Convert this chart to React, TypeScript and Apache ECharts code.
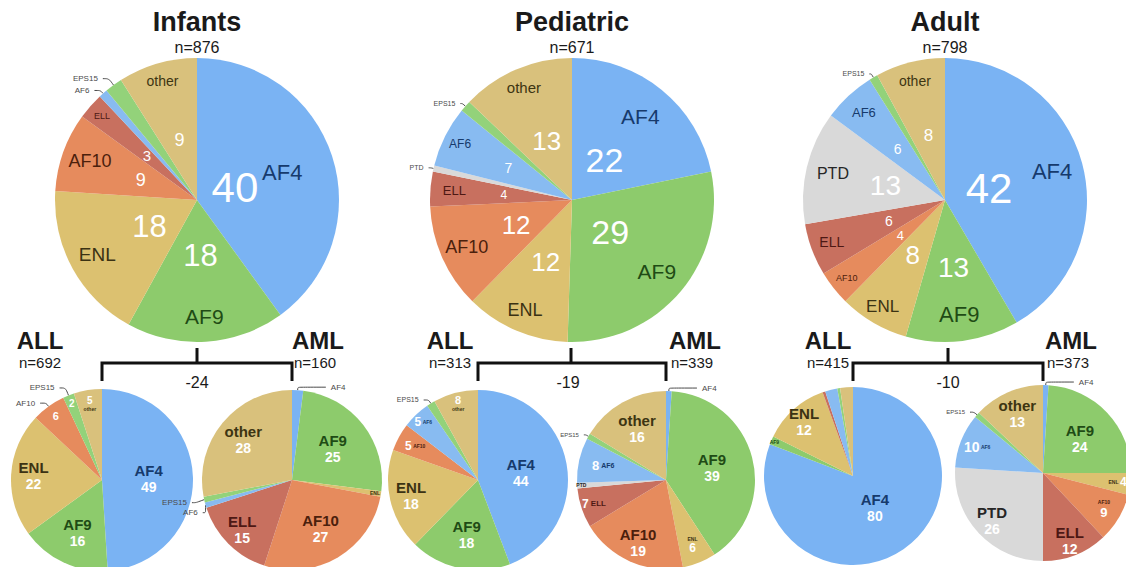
import React, { useEffect, useRef } from "react";
import * as echarts from "echarts";

const FONT = "'Liberation Sans', Arial, Helvetica, sans-serif";

// ---------- data ----------
const groupTitles = ["Infants", "Pediatric", "Adult"];
const groupN = [876, 671, 798];
const allN = [692, 313, 415];
const amlN = [160, 339, 373];
const diffs = [-24, -19, -10];

const infantsNames = ["AF4", "AF9", "ENL", "AF10", "ELL", "AF6", "EPS15", "other"];
const infantsValues = [40, 18, 18, 9, 3, 1, 2, 9];
const pediatricNames = ["AF4", "AF9", "ENL", "AF10", "ELL", "PTD", "AF6", "EPS15", "other"];
const pediatricValues = [22, 29, 12, 12, 4, 0.7, 7, 1.3, 13];
const adultNames = ["AF4", "AF9", "ENL", "AF10", "ELL", "PTD", "AF6", "EPS15", "other"];
const adultValues = [42, 13, 8, 4, 6, 13, 6, 1, 8];

const infantsAllNames = ["AF4", "AF9", "ENL", "AF10", "EPS15", "other"];
const infantsAllValues = [49, 16, 22, 6, 2, 5];
const infantsAmlNames = ["AF4", "AF9", "ENL", "AF10", "ELL", "AF6", "EPS15", "other"];
const infantsAmlValues = [2, 25, 1, 27, 15, 1, 1, 28];
const pediatricAllNames = ["AF4", "AF9", "ENL", "AF10", "AF6", "EPS15", "other"];
const pediatricAllValues = [44, 18, 18, 5, 5, 1.5, 8];
const pediatricAmlNames = ["AF4", "AF9", "ENL", "AF10", "ELL", "PTD", "AF6", "EPS15", "other"];
const pediatricAmlValues = [1, 39, 6, 19, 7, 1, 8, 1, 16];
const adultAllNames = ["AF4", "AF9", "ENL", "ELL", "AF6", "EPS15", "other"];
const adultAllValues = [80, 1.5, 12, 0.5, 2.2, 0.5, 2.3];
const adultAmlNames = ["AF4", "AF9", "ENL", "AF10", "ELL", "PTD", "AF6", "EPS15", "other"];
const adultAmlValues = [1, 24, 4, 9, 12, 26, 10, 1, 13];

// ---------- styles ----------
const COLORS: Record<string, string> = {
  AF4: "#7ab3f3",
  AF9: "#8dcb6c",
  ENL: "#dcc170",
  AF10: "#e68b5d",
  ELL: "#c8705f",
  AF6: "#88bbf1",
  EPS15: "#93d27a",
  PTD: "#d9d9d9",
  other: "#d9c17c",
};
const NAME_COLORS: Record<string, string> = {
  AF4: "#163a6c",
  AF9: "#1f4b15",
  ENL: "#3b3213",
  AF10: "#4b200c",
  ELL: "#4d1814",
  AF6: "#163a6c",
  EPS15: "#333333",
  PTD: "#262626",
  other: "#3d3512",
};

type Kind = "name" | "num" | "stack" | "stackR" | "inl" | "inlR" | "out";
type Spec = { i: number; k: Kind; f?: number; ns?: number; vs?: number; len?: number; len2?: number };

const infantsSpecs: Spec[] = [
  { i: 0, k: "name", f: 0.61, ns: 22 }, { i: 0, k: "num", f: 0.26, vs: 42 },
  { i: 1, k: "name", f: 0.8, ns: 21 }, { i: 1, k: "num", f: 0.37, vs: 31 },
  { i: 2, k: "name", f: 0.78, ns: 19 }, { i: 2, k: "num", f: 0.36, vs: 31 },
  { i: 3, k: "name", f: 0.78, ns: 18 }, { i: 3, k: "num", f: 0.4, vs: 18 },
  { i: 4, k: "name", f: 0.87, ns: 9 }, { i: 4, k: "num", f: 0.45, vs: 15 },
  { i: 5, k: "out", ns: 8, len: 4, len2: 6 }, { i: 6, k: "out", ns: 8, len: 8, len2: 6 },
  { i: 7, k: "name", f: 0.85, ns: 14 }, { i: 7, k: "num", f: 0.42, vs: 18 },
];
const pediatricSpecs: Spec[] = [
  { i: 0, k: "name", f: 0.74, ns: 21 }, { i: 0, k: "num", f: 0.34, vs: 34 },
  { i: 1, k: "name", f: 0.76, ns: 21 }, { i: 1, k: "num", f: 0.33, vs: 34 },
  { i: 2, k: "name", f: 0.82, ns: 18 }, { i: 2, k: "num", f: 0.45, vs: 26 },
  { i: 3, k: "name", f: 0.79, ns: 18 }, { i: 3, k: "num", f: 0.41, vs: 26 },
  { i: 4, k: "name", f: 0.81, ns: 13 }, { i: 4, k: "num", f: 0.46, vs: 12 },
  { i: 5, k: "out", ns: 7, len: 3, len2: 2 },
  { i: 6, k: "name", f: 0.86, ns: 12 }, { i: 6, k: "num", f: 0.48, vs: 14 },
  { i: 7, k: "out", ns: 7, len: 4, len2: 2 },
  { i: 8, k: "name", f: 0.84, ns: 15 }, { i: 8, k: "num", f: 0.43, vs: 26 },
];
const adultSpecs: Spec[] = [
  { i: 0, k: "name", f: 0.76, ns: 22 }, { i: 0, k: "num", f: 0.3, vs: 42 },
  { i: 1, k: "name", f: 0.79, ns: 22 }, { i: 1, k: "num", f: 0.46, vs: 28 },
  { i: 2, k: "name", f: 0.85, ns: 17 }, { i: 2, k: "num", f: 0.43, vs: 26 },
  { i: 3, k: "name", f: 0.86, ns: 9 }, { i: 3, k: "num", f: 0.38, vs: 13 },
  { i: 4, k: "name", f: 0.83, ns: 14 }, { i: 4, k: "num", f: 0.4, vs: 14 },
  { i: 5, k: "name", f: 0.79, ns: 16 }, { i: 5, k: "num", f: 0.41, vs: 28 },
  { i: 6, k: "name", f: 0.82, ns: 13 }, { i: 6, k: "num", f: 0.47, vs: 14 },
  { i: 7, k: "out", ns: 7, len: 4, len2: 2 },
  { i: 8, k: "name", f: 0.84, ns: 14 }, { i: 8, k: "num", f: 0.45, vs: 17 },
];
const infantsAllSpecs: Spec[] = [
  { i: 0, k: "stack", f: 0.48, ns: 15, vs: 14 },
  { i: 1, k: "stack", f: 0.6, ns: 15, vs: 14 },
  { i: 2, k: "stack", f: 0.72, ns: 15, vs: 14 },
  { i: 3, k: "num", f: 0.83, vs: 11 }, { i: 3, k: "out", ns: 8, len: 4, len2: 6 },
  { i: 4, k: "num", f: 0.87, vs: 10 }, { i: 4, k: "out", ns: 8, len: 8, len2: 6 },
  { i: 5, k: "stackR", f: 0.82, ns: 5, vs: 10 },
];
const infantsAmlSpecs: Spec[] = [
  { i: 0, k: "out", ns: 8, len: 3, len2: 28 },
  { i: 1, k: "stack", f: 0.54, ns: 15, vs: 14 },
  { i: 2, k: "name", f: 0.9, ns: 5 },
  { i: 3, k: "stack", f: 0.59, ns: 15, vs: 14 },
  { i: 4, k: "stack", f: 0.75, ns: 15, vs: 14 },
  { i: 5, k: "out", ns: 8, len: 6, len2: 4 }, { i: 6, k: "out", ns: 8, len: 14, len2: 4 },
  { i: 7, k: "stack", f: 0.67, ns: 15, vs: 14 },
];
const pediatricAllSpecs: Spec[] = [
  { i: 0, k: "stack", f: 0.45, ns: 15, vs: 14 },
  { i: 1, k: "stack", f: 0.59, ns: 15, vs: 14 },
  { i: 2, k: "stack", f: 0.73, ns: 15, vs: 14 },
  { i: 3, k: "inl", f: 0.76, ns: 5, vs: 12 },
  { i: 4, k: "inl", f: 0.85, ns: 5, vs: 12 },
  { i: 5, k: "out", ns: 7, len: 4, len2: 5 },
  { i: 6, k: "stackR", f: 0.85, ns: 5, vs: 11 },
];
const pediatricAmlSpecs: Spec[] = [
  { i: 0, k: "out", ns: 8, len: 3, len2: 28 },
  { i: 1, k: "stack", f: 0.5, ns: 15, vs: 14 },
  { i: 2, k: "stack", f: 0.76, ns: 5, vs: 12 },
  { i: 3, k: "stack", f: 0.74, ns: 15, vs: 14 },
  { i: 4, k: "inl", f: 0.82, ns: 8, vs: 12 },
  { i: 5, k: "name", f: 0.92, ns: 5 },
  { i: 6, k: "inl", f: 0.69, ns: 7, vs: 13 },
  { i: 7, k: "out", ns: 6, len: 3, len2: 2 },
  { i: 8, k: "stack", f: 0.63, ns: 15, vs: 14 },
];
const adultAllSpecs: Spec[] = [
  { i: 0, k: "stack", f: 0.4, ns: 15, vs: 14 },
  { i: 1, k: "name", f: 0.93, ns: 5 },
  { i: 2, k: "stack", f: 0.79, ns: 15, vs: 14 },
];
const adultAmlSpecs: Spec[] = [
  { i: 0, k: "out", ns: 8, len: 3, len2: 28 },
  { i: 1, k: "stack", f: 0.54, ns: 15, vs: 14 },
  { i: 2, k: "inlR", f: 0.82, ns: 5, vs: 12 },
  { i: 3, k: "stack", f: 0.77, ns: 5, vs: 13 },
  { i: 4, k: "stack", f: 0.79, ns: 15, vs: 14 },
  { i: 5, k: "stack", f: 0.76, ns: 15, vs: 14 },
  { i: 6, k: "inl", f: 0.77, ns: 5, vs: 14 },
  { i: 7, k: "out", ns: 6, len: 4, len2: 4 },
  { i: 8, k: "stack", f: 0.7, ns: 15, vs: 14 },
];

function labelText(k: Kind, name: string, v: number): string {
  const val = String(Math.round(v));
  switch (k) {
    case "name": return `{n|${name}}`;
    case "num": return `{v|${val}}`;
    case "stack": return `{n|${name}}\n{v|${val}}`;
    case "stackR": return `{v|${val}}\n{n|${name}}`;
    case "inl": return `{v|${val}} {n|${name}}`;
    case "inlR": return `{n|${name}} {v|${val}}`;
    default: return name;
  }
}

function makePie(
  names: string[], values: number[], cx: number, cy: number, r: number,
  specs: Spec[], bold: boolean
): any[] {
  const fw = bold ? "bold" : "normal";
  const series: any[] = [];
  series.push({
    type: "pie", center: [cx, cy], radius: [0, r], startAngle: 90, clockwise: true,
    silent: true, animation: false, avoidLabelOverlap: true,
    label: { show: false }, labelLine: { show: false },
    itemStyle: { borderWidth: 0 }, emphasis: { disabled: true },
    data: values.map((v, k) => {
      const o = specs.find((s) => s.i === k && s.k === "out");
      const item: any = { value: v, name: names[k], itemStyle: { color: COLORS[names[k]] } };
      if (o) {
        item.label = {
          show: true, position: "outside", formatter: "{b}", fontSize: o.ns || 7,
          color: "#4a4a4a", fontFamily: FONT, padding: 0,
        };
        item.labelLine = {
          show: true, length: o.len ?? 6, length2: o.len2 ?? 8, smooth: 0.3,
          lineStyle: { color: "#4a4a4a", width: 1 },
        };
      }
      return item;
    }),
  });
  const fs = Array.from(new Set(specs.filter((s) => s.k !== "out").map((s) => s.f as number)));
  fs.forEach((f) => {
    const rr = f >= 0.5 ? [(2 * f - 1) * r, r] : [0, 2 * f * r];
    series.push({
      type: "pie", center: [cx, cy], radius: rr, startAngle: 90, clockwise: true,
      silent: true, animation: false, avoidLabelOverlap: false,
      itemStyle: { color: "rgba(0,0,0,0)", borderWidth: 0 },
      label: { show: false }, labelLine: { show: false }, emphasis: { disabled: true },
      data: values.map((v, k) => {
        const s = specs.find((q) => q.i === k && q.k !== "out" && q.f === f);
        const nm = names[k];
        if (!s) return { value: v, name: nm, label: { show: false } };
        const ns = s.ns || 12;
        const vs = s.vs || 12;
        return {
          value: v, name: nm,
          label: {
            show: true, position: "inside", formatter: labelText(s.k, nm, v),
            color: "#ffffff", fontFamily: FONT, fontSize: Math.min(ns, vs),
            textBorderWidth: 0, fontWeight: fw,
            rich: {
              n: { fontSize: ns, color: NAME_COLORS[nm], fontFamily: FONT, fontWeight: fw, lineHeight: Math.round(ns * 1.12) },
              v: { fontSize: vs, color: "#ffffff", fontFamily: FONT, fontWeight: fw, lineHeight: Math.round(vs * 1.12) },
            },
          },
        };
      }),
    });
  });
  return series;
}

// layout (pixels)
const bigCenters = [[197, 200], [572, 200], [945, 200]];
const bigR = 142;
const smallAll = [[102, 480, 91], [478, 480, 90], [853, 476, 89]];
const smallAml = [[292, 480, 90], [666, 480, 89], [1043, 473, 88]];
const subLabelAll = [[40, 40], [450, 450], [828, 828]];
const subLabelAml = [[318, 315], [695, 692], [1071, 1068]];
const stemX = [197, 571, 948];
const diffX = [197, 568, 948];

export default function App() {
  const ref = useRef<HTMLDivElement>(null);
  useEffect(() => {
    document.body.style.margin = "0";
    if (!ref.current) return;
    const chart = echarts.init(ref.current, undefined, { renderer: "svg" });

    const series: any[] = [
      ...makePie(infantsNames, infantsValues, bigCenters[0][0], bigCenters[0][1], bigR, infantsSpecs, false),
      ...makePie(pediatricNames, pediatricValues, bigCenters[1][0], bigCenters[1][1], bigR, pediatricSpecs, false),
      ...makePie(adultNames, adultValues, bigCenters[2][0], bigCenters[2][1], bigR, adultSpecs, false),
      ...makePie(infantsAllNames, infantsAllValues, smallAll[0][0], smallAll[0][1], smallAll[0][2], infantsAllSpecs, true),
      ...makePie(infantsAmlNames, infantsAmlValues, smallAml[0][0], smallAml[0][1], smallAml[0][2], infantsAmlSpecs, true),
      ...makePie(pediatricAllNames, pediatricAllValues, smallAll[1][0], smallAll[1][1], smallAll[1][2], pediatricAllSpecs, true),
      ...makePie(pediatricAmlNames, pediatricAmlValues, smallAml[1][0], smallAml[1][1], smallAml[1][2], pediatricAmlSpecs, true),
      ...makePie(adultAllNames, adultAllValues, smallAll[2][0], smallAll[2][1], smallAll[2][2], adultAllSpecs, true),
      ...makePie(adultAmlNames, adultAmlValues, smallAml[2][0], smallAml[2][1], smallAml[2][2], adultAmlSpecs, true),
    ];

    const txt = (text: string, x: number, y: number, size: number, bold: boolean) => ({
      type: "text", x, y, silent: true, z: 100,
      style: {
        text, fill: "#1a1a1a", font: `${bold ? "bold " : ""}${size}px ${FONT}`,
        align: "center", verticalAlign: "middle", textAlign: "center", textVerticalAlign: "middle",
      },
    });
    const graphics: any[] = [];
    for (let g = 0; g < 3; g++) {
      graphics.push(txt(groupTitles[g], bigCenters[g][0], 22, 27, true));
      graphics.push(txt(`n=${groupN[g]}`, bigCenters[g][0], 47, 16, false));
      graphics.push(txt("ALL", subLabelAll[g][0], 340, 24, true));
      graphics.push(txt(`n=${allN[g]}`, subLabelAll[g][1], 362, 15, false));
      graphics.push(txt("AML", subLabelAml[g][0], 340, 24, true));
      graphics.push(txt(`n=${amlN[g]}`, subLabelAml[g][1], 362, 15, false));
      graphics.push(txt(String(diffs[g]), diffX[g], 382, 16, false));
      const lx = smallAll[g][0];
      const rx = smallAml[g][0];
      graphics.push({
        type: "polyline", silent: true, z: 100,
        shape: { points: [[lx, 381], [lx, 363], [rx, 363], [rx, 381]] },
        style: { stroke: "#111", lineWidth: 3, fill: "none" },
      });
      graphics.push({
        type: "line", silent: true, z: 100,
        shape: { x1: stemX[g], y1: 348, x2: stemX[g], y2: 363 },
        style: { stroke: "#111", lineWidth: 3 },
      });
    }

    chart.setOption({
      animation: false,
      backgroundColor: "#ffffff",
      textStyle: { fontFamily: FONT },
      series,
      graphic: { elements: graphics },
    });
    return () => chart.dispose();
  }, []);
  return <div ref={ref} style={{ width: 1126, height: 567 }} />;
}
